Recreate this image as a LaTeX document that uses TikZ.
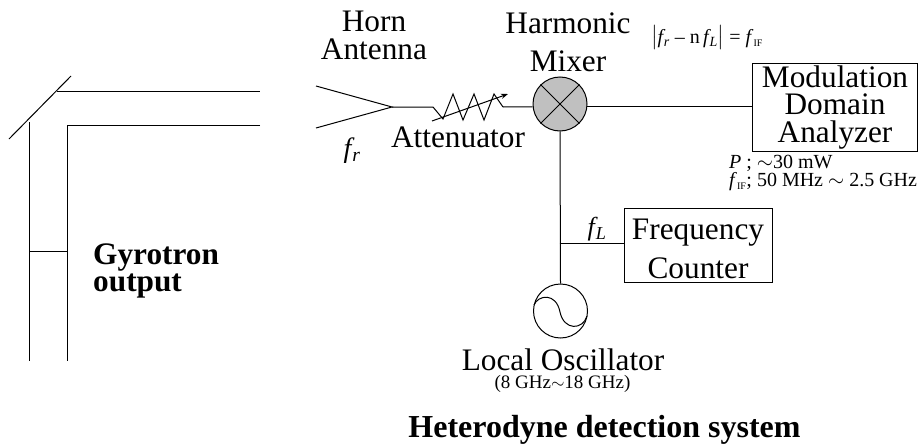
\documentclass[tikz,border=0pt]{standalone}
\usepackage{amsmath,amssymb}
\usepackage{fontspec}
\setmainfont{Liberation Serif}
\usepackage{xcolor}
\usetikzlibrary{arrows.meta,positioning,calc}
\definecolor{mixergray}{RGB}{192, 192, 192}
\newcommand{\fsub}[1]{\textit{f}\kern-0.08em$_{\textit{#1}}$}
\newcommand{\fif}[1]{\textit{f}$_{\text{\fontsize{#1}{#1}\selectfont IF}}$}
\tikzset{
    wire/.style={draw=black, line width=1pt},
    bigtext/.style={inner sep=0pt, align=center, font=\fontsize{31.3}{27.5}\selectfont},
    looseText/.style={inner sep=0pt, align=center, font=\fontsize{31.3}{38.5}\selectfont},
    boldtext/.style={inner sep=0pt, align=left, font=\fontsize{31.3}{27}\selectfont\bfseries},
    smalltext/.style={inner sep=0pt, align=left, font=\fontsize{20}{17}\selectfont},
    devicebox/.style={draw=black, line width=1pt, rectangle, inner sep=0pt},
    roundpart/.style={draw=black, line width=1pt, circle, inner sep=0pt, minimum size=54pt}
}

\begin{document}
\begin{tikzpicture}[x=1pt, y=-1pt]
    \useasboundingbox (0, 0) rectangle (918, 444);

    % Waveguide
    \draw[wire] (9, 139) -- (71, 76);
    \draw[wire] (57, 91) -- (260, 91);
    \draw[wire] (260, 125) -- (67, 125) -- (67, 361);
    \draw[wire] (29, 122) -- (29, 361);
    \draw[wire] (29, 251) -- (67, 251);
    \node[boldtext, anchor=west] (gyro) at (93, 271) {Gyrotron\\output};

    % Horn Antenna
    \coordinate (hornapex) at (392, 107);
    \coordinate (attin) at (433, 107);
    \coordinate (attout) at (503, 107);
    \draw[wire] (316, 86) -- (hornapex) -- (316, 128);
    \node[bigtext] (hornlabel) at (374, 35.5) {Horn\\Antenna};
    \node[inner sep=0pt, font=\fontsize{28}{28}\selectfont] (frlabel) at (352, 151) {\fsub{r}};

    % Attenuator
    \draw[wire] (hornapex) -- (attin) -- (443, 119) -- (453, 94) -- (463, 120) -- (474, 94) -- (484, 120) -- (494, 94) -- (attout);
    \draw[wire, -{Stealth[length=7pt, width=5pt]}] (432, 121) -- (508, 94);
    \node[bigtext] (attlabel) at (458, 137.5) {Attenuator};

    % Harmonic Mixer
    \node[roundpart, fill=mixergray] (mixer) at (560, 104) {};
    \draw[wire] (mixer.45) -- (mixer.225);
    \draw[wire] (mixer.135) -- (mixer.315);
    \node[looseText] (mixerlabel) at (568, 42.5) {Harmonic\\Mixer};
    \node[inner sep=0pt, font=\fontsize{20}{20}\selectfont] (eqlabel) at (707, 38) {$\bigl|$\fsub{r} -- n\,\fsub{L}$\bigr|$ = \fif{10}};

    % Modulation Domain Analyzer
    \node[devicebox, bigtext, draw=black, minimum width=164.5pt, minimum height=87pt] (analyzer) at (835, 107.5) {Modulation\\Domain\\Analyzer};
    \node[smalltext, anchor=north west] (analyzerdata) at (729, 155) {\textit{P} ; $\sim$30 mW\\\fif{10}; 50 MHz $\sim$ 2.5 GHz};

    % Local Oscillator
    \node[roundpart] (osc) at (560.5, 311) {};
    \draw[wire] (534, 305) .. controls (538, 295) and (556, 292) .. (560, 312) .. controls (564, 331) and (583, 330) .. (587, 316);
    \node[inner sep=0pt, font=\fontsize{31.3}{31}\selectfont] (osclabel) at (563, 359.5) {Local Oscillator};
    \node[inner sep=0pt, font=\fontsize{19}{19}\selectfont] (oscrange) at (562.5, 384) {(8 GHz$\sim$18 GHz)};

    % Frequency Counter
    \node[devicebox, looseText, draw=black, minimum width=148pt, minimum height=74pt] (counter) at (698, 245) {\rule{0pt}{28pt}Frequency\\Counter};
    \coordinate (tap) at (559.5, 243);
    \node[inner sep=0pt, font=\fontsize{26}{26}\selectfont] (fllabel) at (597, 229) {\fsub{L}};

    % Connectors
    \draw[wire] (attout) -- (mixer.186);
    \draw[wire] (mixer.-6) -- (mixer.-6 -| analyzer.west);
    \draw[wire] (mixer.south) -- (osc.north);
    \draw[wire] (tap) -- (tap -| counter.west);

    % Title
    \node[inner sep=0pt, font=\fontsize{32}{32}\selectfont\bfseries] (title) at (604.5, 429.5) {Heterodyne detection system};
\end{tikzpicture}
\end{document}
